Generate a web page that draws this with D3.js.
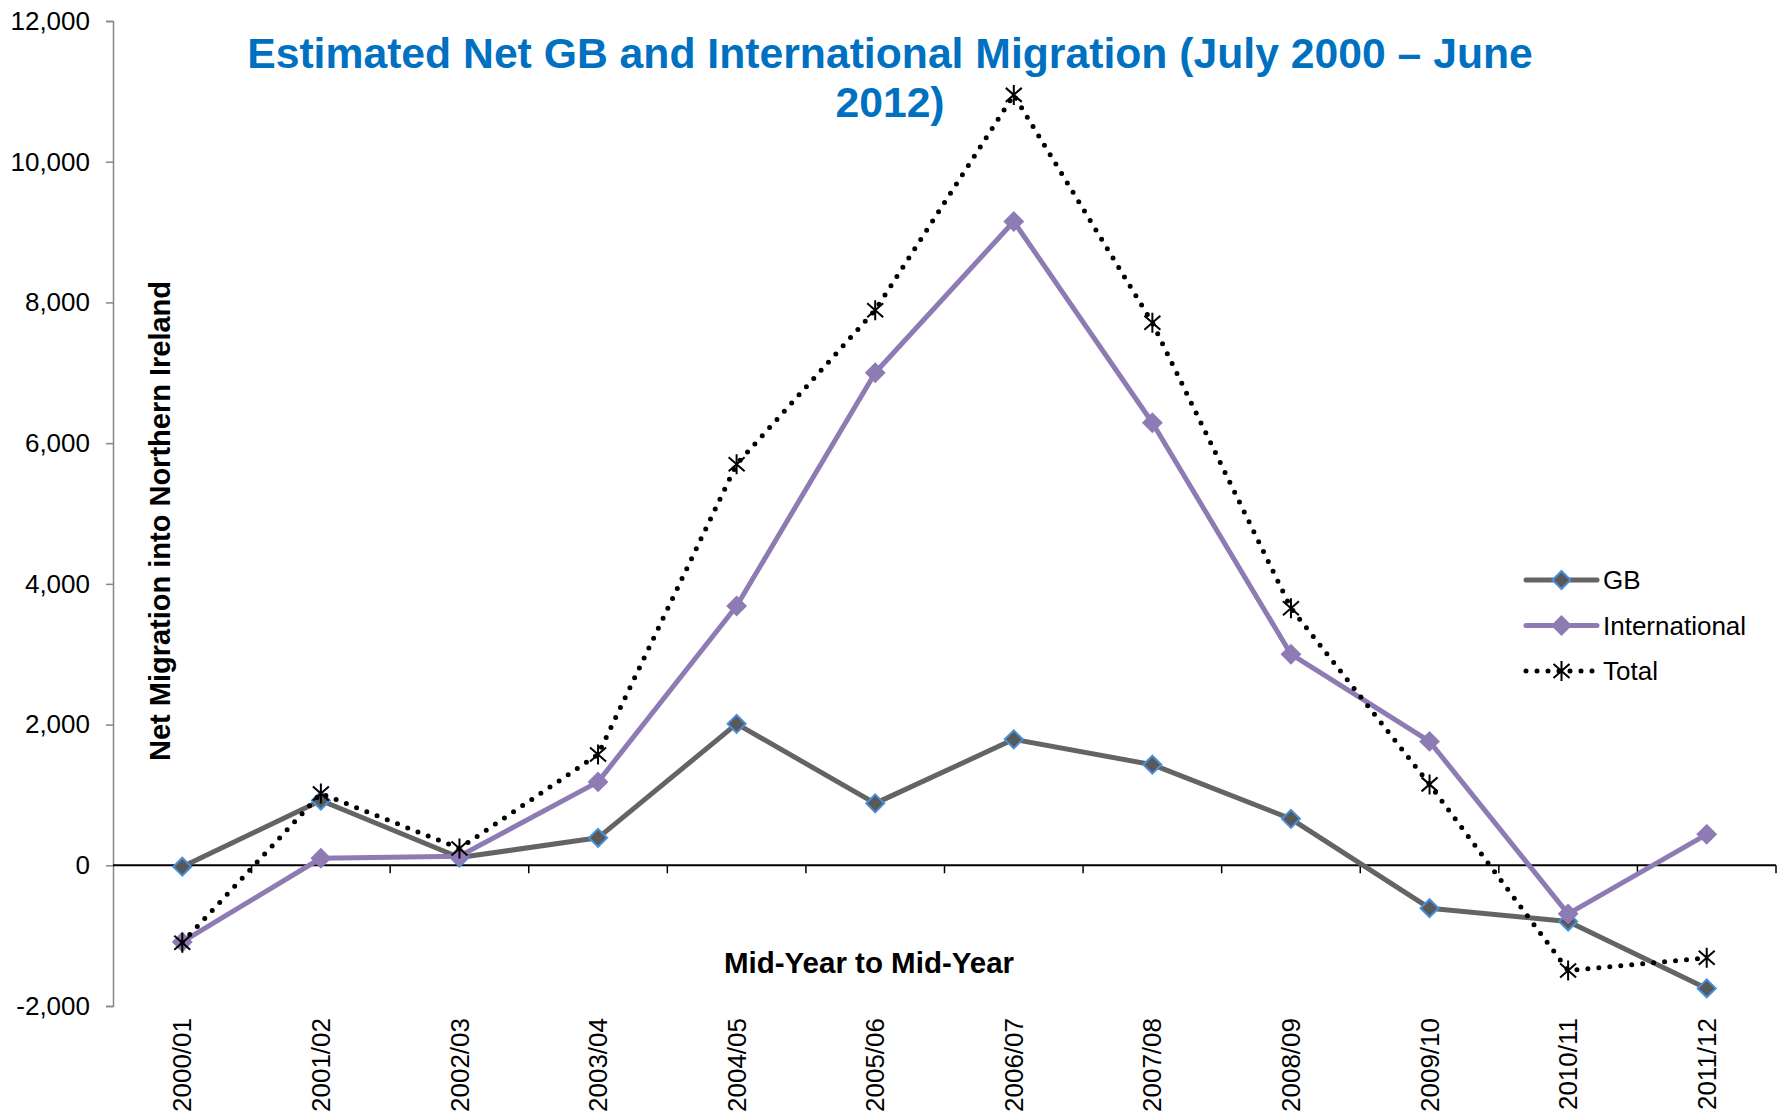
<!DOCTYPE html>
<html>
<head>
<meta charset="utf-8">
<script src="https://cdn.jsdelivr.net/npm/d3@7"></script>
<style>
  body { margin: 0; background: #fff; }
  text { font-family: "Liberation Sans", Arial, sans-serif; }
</style>
</head>
<body>
<div id="chart"></div>
<script>
// Net migration into Northern Ireland, mid-year to mid-year
const years = ["2000/01", "2001/02", "2002/03", "2003/04", "2004/05", "2005/06",
  "2006/07", "2007/08", "2008/09", "2009/10", "2010/11", "2011/12"];
const gbValues = [-20, 920, 110, 390, 2010, 880, 1790, 1430, 660, -610, -800, -1750];
const intlValues = [-1090, 100, 130, 1185, 3685, 7000, 9150, 6290, 3000, 1760, -690, 440];
const totalValues = [-1100, 1020, 240, 1575, 5700, 7890, 10950, 7710, 3655, 1150, -1495, -1315];
const yTicks = [-2000, 0, 2000, 4000, 6000, 8000, 10000, 12000];
const seriesNames = ["GB", "International", "Total"];

const W = 1787, H = 1118;
const plot = { left: 113, right: 1776, top: 21, bottom: 1006 };

const svg = d3.select("#chart").append("svg")
  .attr("width", W)
  .attr("height", H);

const x = d3.scaleBand().domain(years).range([plot.left, plot.right]);
const cx = d => x(d) + x.bandwidth() / 2;
const y = d3.scaleLinear().domain([-2000, 12000]).range([plot.bottom, plot.top]);

const fmt = d3.format(",");
const tickFmt = d => d < 0 ? "-" + fmt(-d) : fmt(d);

// Y axis
const yAxis = svg.append("g")
  .attr("transform", `translate(${plot.left},0)`)
  .call(d3.axisLeft(y).tickValues(yTicks).tickSize(7).tickPadding(16).tickFormat(tickFmt));
yAxis.select(".domain").attr("stroke", "#868686").attr("stroke-width", 1.5);
yAxis.selectAll(".tick line").attr("stroke", "#868686").attr("stroke-width", 1.5);
yAxis.selectAll(".tick text")
  .attr("font-size", 26)
  .attr("fill", "#000")
  .style("font-family", "'Liberation Sans', Arial, sans-serif");

// X axis along zero
const zeroY = y(0);
svg.append("line")
  .attr("x1", plot.left).attr("x2", plot.right)
  .attr("y1", zeroY).attr("y2", zeroY)
  .attr("stroke", "#000").attr("stroke-width", 2);

svg.selectAll(".xtick")
  .data(years)
  .enter().append("line")
  .attr("class", "xtick")
  .attr("x1", d => x(d) + x.bandwidth())
  .attr("x2", d => x(d) + x.bandwidth())
  .attr("y1", zeroY)
  .attr("y2", zeroY + 8)
  .attr("stroke", "#000").attr("stroke-width", 1.5);

// Category labels at bottom
svg.selectAll(".xlabel")
  .data(years)
  .enter().append("text")
  .attr("class", "xlabel")
  .attr("transform", d => `translate(${cx(d)},1018) rotate(-90)`)
  .attr("text-anchor", "end")
  .attr("dy", "0.35em")
  .attr("font-size", 26)
  .text(d => d);

// Titles
const title = svg.append("text")
  .attr("text-anchor", "middle")
  .attr("font-size", 42.7)
  .attr("font-weight", "bold")
  .attr("fill", "#0070C0");
title.append("tspan").attr("x", 890).attr("y", 68)
  .text("Estimated Net GB and International Migration (July 2000 \u2013 June");
title.append("tspan").attr("x", 890).attr("y", 117).text("2012)");

svg.append("text")
  .attr("transform", "translate(170,521) rotate(-90)")
  .attr("text-anchor", "middle")
  .attr("font-size", 29)
  .attr("font-weight", "bold")
  .text("Net Migration into Northern Ireland");

svg.append("text")
  .attr("x", 869).attr("y", 973)
  .attr("text-anchor", "middle")
  .attr("font-size", 29.5)
  .attr("font-weight", "bold")
  .text("Mid-Year to Mid-Year");

// Series
const gbColor = "#646464", gbMarkerFill = "#595959", gbMarkerStroke = "#4A8FDB";
const intlColor = "#8E7BB4";
const diamond = "M0,-9L9,0L0,9L-9,0Z";
const asterisk = "M-8,-7L8,7M-8,7L8,-7M0,-10L0,10";

const line = d3.line().x(d => cx(d.year)).y(d => y(d.value));
const toPoints = vals => years.map((yr, i) => ({ year: yr, value: vals[i] }));

const gbData = toPoints(gbValues);
const intlData = toPoints(intlValues);
const totalData = toPoints(totalValues);

// GB
svg.append("path").datum(gbData)
  .attr("d", line).attr("fill", "none")
  .attr("stroke", gbColor).attr("stroke-width", 5).attr("stroke-linejoin", "round");
svg.selectAll(".gb-pt").data(gbData).enter().append("path")
  .attr("class", "gb-pt")
  .attr("d", diamond)
  .attr("transform", d => `translate(${cx(d.year)},${y(d.value)})`)
  .attr("fill", gbMarkerFill).attr("stroke", gbMarkerStroke).attr("stroke-width", 2);

// International
svg.append("path").datum(intlData)
  .attr("d", line).attr("fill", "none")
  .attr("stroke", intlColor).attr("stroke-width", 5).attr("stroke-linejoin", "round");
svg.selectAll(".intl-pt").data(intlData).enter().append("path")
  .attr("class", "intl-pt")
  .attr("d", diamond)
  .attr("transform", d => `translate(${cx(d.year)},${y(d.value)})`)
  .attr("fill", intlColor).attr("stroke", intlColor).attr("stroke-width", 2);

// Total
svg.append("path").datum(totalData)
  .attr("d", line).attr("fill", "none")
  .attr("stroke", "#000").attr("stroke-width", 5)
  .attr("stroke-linecap", "round")
  .attr("stroke-dasharray", "0 11");
svg.selectAll(".tot-pt").data(totalData).enter().append("path")
  .attr("class", "tot-pt")
  .attr("d", asterisk)
  .attr("transform", d => `translate(${cx(d.year)},${y(d.value)})`)
  .attr("fill", "none").attr("stroke", "#000").attr("stroke-width", 2);

// Legend
const legend = svg.append("g").attr("transform", "translate(1526,580)");
seriesNames.forEach((name, i) => {
  const g = legend.append("g").attr("transform", `translate(0,${i * 45.5})`);
  const ln = g.append("line").attr("x1", 0).attr("x2", 71).attr("y1", 0).attr("y2", 0);
  const mk = g.append("path").attr("transform", "translate(35.5,0)");
  if (name === "GB") {
    ln.attr("stroke", gbColor).attr("stroke-width", 5).attr("stroke-linecap", "round");
    mk.attr("d", diamond).attr("fill", gbMarkerFill).attr("stroke", gbMarkerStroke).attr("stroke-width", 2);
  } else if (name === "International") {
    ln.attr("stroke", intlColor).attr("stroke-width", 5).attr("stroke-linecap", "round");
    mk.attr("d", diamond).attr("fill", intlColor).attr("stroke", intlColor).attr("stroke-width", 2);
  } else {
    ln.attr("stroke", "#000").attr("stroke-width", 5).attr("stroke-linecap", "round")
      .attr("stroke-dasharray", "0 11");
    mk.attr("d", asterisk).attr("fill", "none").attr("stroke", "#000").attr("stroke-width", 2);
  }
  g.append("text")
    .attr("x", 77).attr("y", 0)
    .attr("dy", "0.35em")
    .attr("font-size", 26)
    .text(name);
});
</script>
</body>
</html>
